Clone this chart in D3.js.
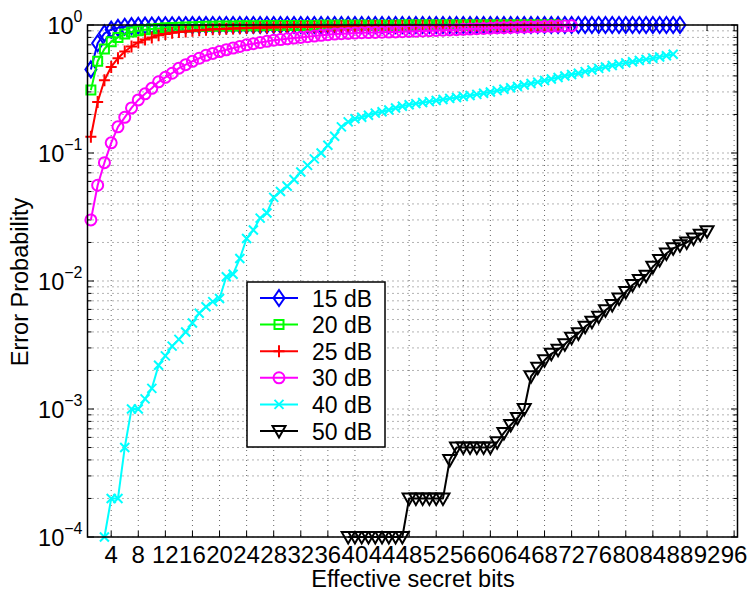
<!DOCTYPE html>
<html>
<head>
<meta charset="utf-8">
<script src="https://cdn.jsdelivr.net/npm/d3@7"></script>
<style>
  body { margin: 0; background: #fff; }
  svg { display: block; font-family: "Liberation Sans", Arial, Helvetica, sans-serif; }
</style>
</head>
<body>
<svg id="chart" width="750" height="593"></svg>
<script>
// ---- data -------------------------------------------------------------
const seriesNames   = ["15 dB", "20 dB", "25 dB", "30 dB", "40 dB", "50 dB"];
const seriesColors  = ["#0000ff", "#00ff00", "#ff0000", "#ff00ff", "#00ffff", "#000000"];
const seriesMarkers = ["diamond", "square", "plus", "circle", "cross", "triangleDown"];
// first "effective secret bits" value of each series (bits step by 1 after it)
const seriesStart   = [1, 1, 1, 1, 3, 39];

const err15dB = [
  0.45, 0.72, 0.86, 0.92, 0.95, 0.97, 0.98, 0.985, 0.99, 0.992,
  0.994, 0.995, 0.996, 0.997, 0.997, 0.998, 0.998, 0.998, 0.999, 0.999,
  0.999, 0.999, 0.999, 0.999, 0.999, 0.999, 0.999, 0.999, 0.999, 0.999,
  0.999, 0.999, 0.999, 0.999, 0.999, 0.999, 0.999, 0.999, 0.999, 0.999,
  1, 1, 1, 1, 1, 1, 1, 1, 1, 1,
  1, 1, 1, 1, 1, 1, 1, 1, 1, 1,
  1, 1, 1, 1, 1, 1, 1, 1, 1, 1,
  1, 1, 1, 1, 1, 1, 1, 1, 1, 1,
  1, 1, 1, 1, 1, 1, 1, 1
];
const err20dB = [
  0.31, 0.52, 0.65, 0.74, 0.80, 0.85, 0.88, 0.90, 0.92, 0.93,
  0.94, 0.95, 0.955, 0.96, 0.965, 0.97, 0.973, 0.976, 0.978, 0.98,
  0.982, 0.984, 0.985, 0.986, 0.987, 0.988, 0.989, 0.99, 0.99, 0.991,
  0.992, 0.992, 0.993, 0.993, 0.994, 0.994, 0.995, 0.995, 0.995, 0.996,
  0.996, 0.996, 0.997, 0.997, 0.997, 0.997, 0.998, 0.998, 0.998, 0.998,
  0.998, 0.998, 0.999, 0.999, 0.999, 0.999, 0.999, 0.999, 0.999, 0.999,
  0.999, 0.999, 0.999, 0.999, 0.999, 0.999, 0.999, 0.999, 0.999, 0.999
];
const err25dB = [
  0.134, 0.25, 0.37, 0.47, 0.55, 0.62, 0.68, 0.73, 0.77, 0.80,
  0.83, 0.85, 0.87, 0.88, 0.89, 0.90, 0.91, 0.92, 0.925, 0.93,
  0.935, 0.94, 0.944, 0.948, 0.952, 0.955, 0.958, 0.96, 0.962, 0.964,
  0.966, 0.968, 0.97, 0.971, 0.972, 0.974, 0.975, 0.976, 0.977, 0.978,
  0.979, 0.98, 0.981, 0.982, 0.983, 0.983, 0.984, 0.985, 0.985, 0.986,
  0.986, 0.987, 0.987, 0.988, 0.988, 0.989, 0.989, 0.99, 0.99, 0.99,
  0.991, 0.991, 0.991, 0.992, 0.992, 0.992, 0.993, 0.993, 0.993, 0.994
];
const err30dB = [
  0.030, 0.056, 0.084, 0.12, 0.16, 0.19, 0.225, 0.26, 0.29, 0.32,
  0.36, 0.39, 0.42, 0.46, 0.49, 0.52, 0.55, 0.58, 0.60, 0.62,
  0.64, 0.66, 0.68, 0.70, 0.715, 0.73, 0.745, 0.76, 0.77, 0.78,
  0.79, 0.80, 0.81, 0.82, 0.83, 0.84, 0.85, 0.855, 0.86, 0.865,
  0.87, 0.872, 0.875, 0.878, 0.88, 0.883, 0.886, 0.89, 0.894, 0.898,
  0.902, 0.906, 0.91, 0.915, 0.92, 0.925, 0.93, 0.935, 0.94, 0.945,
  0.95, 0.953, 0.956, 0.96, 0.963, 0.966, 0.97, 0.973, 0.976, 0.979,
  0.982, 0.985
];
const err40dB = [
  1e-4, 2e-4, 2e-4, 5e-4, 1e-3, 1e-3, 1.2e-3, 1.45e-3, 2.2e-3, 2.6e-3,
  3.1e-3, 3.5e-3, 4.0e-3, 4.7e-3, 5.6e-3, 6.3e-3, 6.9e-3, 7.3e-3, 1.08e-2, 1.13e-2,
  1.5e-2, 2.15e-2, 2.5e-2, 3.1e-2, 3.4e-2, 4.5e-2, 5.0e-2, 5.5e-2, 6.2e-2, 0.071,
  0.08, 0.09, 0.10, 0.115, 0.135, 0.16, 0.175, 0.185, 0.19, 0.197,
  0.205, 0.21, 0.217, 0.225, 0.232, 0.238, 0.243, 0.248, 0.252, 0.257,
  0.262, 0.267, 0.271, 0.276, 0.281, 0.287, 0.293, 0.30, 0.307, 0.315,
  0.323, 0.331, 0.34, 0.349, 0.358, 0.368, 0.378, 0.389, 0.40, 0.41,
  0.42, 0.432, 0.445, 0.458, 0.47, 0.482, 0.494, 0.506, 0.517, 0.528,
  0.539, 0.55, 0.562, 0.575, 0.59
];
const err50dB = [
  1e-4, 1e-4, 1e-4, 1e-4, 1e-4, 1e-4, 1e-4, 1e-4, 1e-4,
  2e-4, 2e-4, 2e-4, 2e-4, 2e-4, 2e-4,
  4e-4,
  5e-4, 5e-4, 5e-4, 5e-4, 5e-4, 5e-4,
  5.5e-4, 6.5e-4, 7.5e-4, 8.5e-4, 1e-3, 1.8e-3, 2.1e-3, 2.4e-3, 2.7e-3, 2.9e-3,
  3.2e-3, 3.6e-3, 3.9e-3, 4.4e-3, 4.8e-3, 5.25e-3, 5.9e-3, 6.5e-3, 7.3e-3, 8.2e-3,
  9.3e-3, 1.02e-2, 1.1e-2, 1.29e-2, 1.46e-2, 1.64e-2, 1.8e-2, 1.9e-2, 2.0e-2, 2.15e-2,
  2.3e-2, 2.45e-2
];
const seriesValues = [err15dB, err20dB, err25dB, err30dB, err40dB, err50dB];

const xTicks = [4, 8, 12, 16, 20, 24, 28, 32, 36, 40, 44, 48, 52, 56, 60, 64, 68, 72, 76, 80, 84, 88, 92, 96];
const yExponents = [0, -1, -2, -3, -4];
const xLabel = "Effective secret bits";
const yLabel = "Error Probability";

(function draw() {
  // ---- layout ---------------------------------------------------------
  const pl = 87.5, pr = 737.5, pt = 25, pb = 537;
  const svg = d3.select("#chart");

  const x = d3.scaleLinear().domain([0.5, 96.5]).range([pl, pr]);
  const y = d3.scaleLog().domain([1e-4, 1]).range([pb, pt]);

  // ---- grid (dotted, major and minor) ---------------------------------
  const grid = svg.append("g")
    .attr("stroke", "#000").attr("stroke-opacity", 0.6).attr("stroke-width", 1)
    .attr("stroke-dasharray", "1,4").attr("fill", "none");

  xTicks.forEach(t => grid.append("line")
    .attr("x1", x(t)).attr("x2", x(t)).attr("y1", pt).attr("y2", pb));

  const yMinor = [];
  for (let e = -4; e < 0; e++) for (let m = 2; m <= 9; m++) yMinor.push(m * Math.pow(10, e));
  const yMajor = yExponents.map(e => Math.pow(10, e));
  yMajor.concat(yMinor).forEach(v => grid.append("line")
    .attr("x1", pl).attr("x2", pr).attr("y1", y(v)).attr("y2", y(v)));

  // ---- ticks ----------------------------------------------------------
  const ticks = svg.append("g").attr("stroke", "#000").attr("stroke-width", 1);
  xTicks.forEach(t => {
    ticks.append("line").attr("x1", x(t)).attr("x2", x(t)).attr("y1", pb).attr("y2", pb - 6);
    ticks.append("line").attr("x1", x(t)).attr("x2", x(t)).attr("y1", pt).attr("y2", pt + 6);
  });
  yMajor.forEach(v => {
    ticks.append("line").attr("x1", pl).attr("x2", pl + 6.5).attr("y1", y(v)).attr("y2", y(v));
    ticks.append("line").attr("x1", pr).attr("x2", pr - 6.5).attr("y1", y(v)).attr("y2", y(v));
  });
  yMinor.forEach(v => {
    ticks.append("line").attr("x1", pl).attr("x2", pl + 4).attr("y1", y(v)).attr("y2", y(v));
    ticks.append("line").attr("x1", pr).attr("x2", pr - 4).attr("y1", y(v)).attr("y2", y(v));
  });

  // ---- tick labels ----------------------------------------------------
  svg.append("g").selectAll("text").data(xTicks).join("text")
    .attr("x", d => x(d)).attr("y", pb + 26)
    .attr("text-anchor", "middle").attr("font-size", 24).attr("fill", "#000")
    .text(d => d);

  const yl = svg.append("g").selectAll("text").data(yExponents).join("text")
    .attr("x", pl - 5).attr("y", d => y(Math.pow(10, d)) + 8.5)
    .attr("text-anchor", "end").attr("font-size", 23.5).attr("fill", "#000");
  yl.append("tspan").text("10");
  yl.append("tspan").attr("font-size", 16).attr("dy", -12)
    .text(d => d === 0 ? "0" : "\u2212" + Math.abs(d));

  // ---- axis titles ----------------------------------------------------
  svg.append("text").attr("x", 413).attr("y", 587)
    .attr("text-anchor", "middle").attr("font-size", 23.5).text(xLabel);
  svg.append("text").attr("transform", `translate(28,282) rotate(-90)`)
    .attr("text-anchor", "middle").attr("font-size", 23.5).text(yLabel);

  // ---- markers --------------------------------------------------------
  function markerPath(type) {
    const p = d3.path();
    switch (type) {
      case "diamond":
        p.moveTo(0, -8); p.lineTo(5.5, 0); p.lineTo(0, 8); p.lineTo(-5.5, 0); p.closePath(); break;
      case "square":
        p.rect(-4.5, -4.5, 9, 9); break;
      case "plus":
        p.moveTo(-5.5, 0); p.lineTo(5.5, 0); p.moveTo(0, -6); p.lineTo(0, 6); break;
      case "circle":
        p.moveTo(5.5, 0); p.arc(0, 0, 5.5, 0, 2 * Math.PI); p.closePath(); break;
      case "cross":
        p.moveTo(-4.5, -4.5); p.lineTo(4.5, 4.5); p.moveTo(-4.5, 4.5); p.lineTo(4.5, -4.5); break;
      case "triangleDown":
        p.moveTo(-6.5, -5); p.lineTo(6.5, -5); p.lineTo(0, 6.5); p.closePath(); break;
    }
    return p.toString();
  }

  // ---- series ---------------------------------------------------------
  const line = d3.line().x(d => x(d.bits)).y(d => y(d.p));
  const plot = svg.append("g");
  seriesValues.forEach((vals, k) => {
    const pts = vals.map((p, i) => ({ bits: seriesStart[k] + i, p }));
    const g = plot.append("g");
    g.append("path").datum(pts).attr("d", line)
      .attr("fill", "none").attr("stroke", seriesColors[k]).attr("stroke-width", 2)
      .attr("stroke-linejoin", "round");
    g.selectAll("path.m").data(pts).join("path").attr("class", "m")
      .attr("transform", d => `translate(${x(d.bits)},${y(d.p)})`)
      .attr("d", markerPath(seriesMarkers[k]))
      .attr("fill", "none").attr("stroke", seriesColors[k]).attr("stroke-width", 2);
  });

  // ---- axes box -------------------------------------------------------
  svg.append("rect").attr("x", pl).attr("y", pt)
    .attr("width", pr - pl).attr("height", pb - pt)
    .attr("fill", "none").attr("stroke", "#000").attr("stroke-width", 1.5);

  // ---- legend ---------------------------------------------------------
  const lg = svg.append("g").attr("transform", "translate(247,282)");
  lg.append("rect").attr("width", 138).attr("height", 165)
    .attr("fill", "#fff").attr("stroke", "#000").attr("stroke-width", 1.5);
  seriesNames.forEach((name, k) => {
    const ly = 16 + k * 26.6;
    lg.append("line").attr("x1", 13).attr("x2", 51).attr("y1", ly).attr("y2", ly)
      .attr("stroke", seriesColors[k]).attr("stroke-width", 2);
    lg.append("path").attr("transform", `translate(32,${ly})`).attr("d", markerPath(seriesMarkers[k]))
      .attr("fill", "none").attr("stroke", seriesColors[k]).attr("stroke-width", 2);
    lg.append("text").attr("x", 65).attr("y", ly + 8.5).attr("font-size", 23).text(name);
  });
})();
</script>
</body>
</html>
